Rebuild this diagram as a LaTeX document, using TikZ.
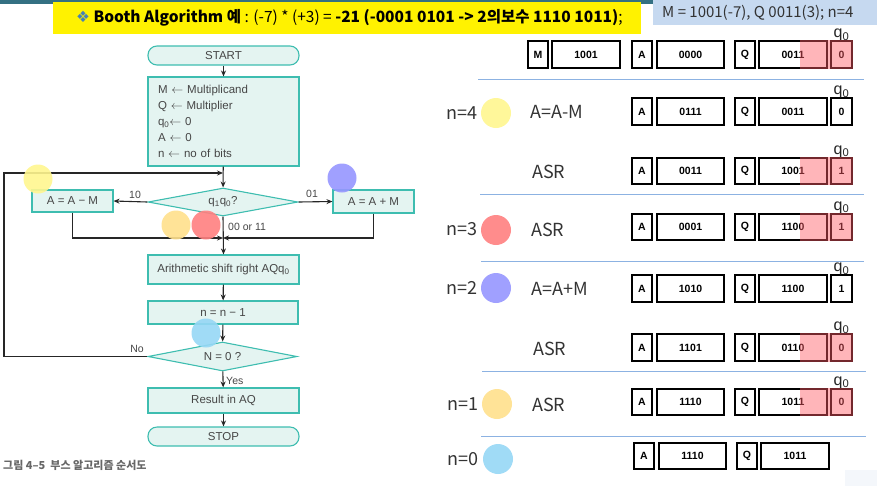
\documentclass[tikz,border=0pt]{standalone}
\usepackage{fontspec}
\setmainfont{Liberation Sans}
\newfontfamily\kr{Noto Sans CJK KR}
\newfontfamily\dejavu{DejaVu Sans}
\usetikzlibrary{arrows.meta,shapes.geometric}
\definecolor{tealb}{RGB}{62,189,176}
\definecolor{tealf}{RGB}{228,244,241}
\definecolor{ftext}{RGB}{70,70,70}
\definecolor{sepc}{RGB}{140,178,226}
\definecolor{hdr}{RGB}{198,217,240}
\definecolor{topbar}{RGB}{52,112,130}
\definecolor{bullet}{RGB}{70,130,180}
\definecolor{cyel}{RGB}{255,246,143}
\definecolor{corg}{RGB}{255,224,140}
\definecolor{cred}{RGB}{255,128,128}
\definecolor{cpur}{RGB}{150,150,255}
\definecolor{cblu}{RGB}{150,215,245}
\definecolor{faint}{RGB}{244,247,251}
\newcommand\fbfont{\fontsize{11.5}{16}\selectfont}
\newcommand\regrow[6]{%
  \node[lab] (a#1) at (642,#2) {A};
  \node[val] (av#1) at (690.5,#2) {#3};
  \node[lab] (q#1) at (745,#2) {Q};
  \node[val] (qv#1) at (793,#2) {#4};
  \node[lab,minimum width=21.5pt] (z#1) at (841.5,#2) {#5};
  \node[q0l] (zl#1) at (841.5,{#2-19.5}) {q\textsubscript{0}};
  \ifnum#6=1 \fill[pinkov] (800,{#2-14.25}) rectangle (853.2,{#2+14.25}); \fi
}
\tikzset{
 fbox/.style={draw=tealb, fill=tealf, line width=1.1pt, font=\fbfont, text=ftext, inner sep=0pt},
 term/.style={fbox, rounded corners=9pt},
 dia/.style={fbox, diamond, aspect=5.3},
 arr/.style={draw=black!85, line width=1.1pt, -{Stealth[length=6pt,width=5pt]}},
 flab/.style={font=\fontsize{10.5}{12}\selectfont, text=ftext, inner sep=0pt},
 lab/.style={draw=black, line width=1.6pt, minimum width=20.5pt, minimum height=26.5pt, inner sep=0pt, font=\bfseries\fontsize{10.5}{12}\selectfont},
 val/.style={lab, minimum width=67.5pt},
 rowt/.style={font=\kr\fontsize{18}{20}\selectfont, text=black!80, inner sep=0pt, anchor=west},
 sepl/.style={draw=sepc, line width=1pt},
 q0l/.style={font=\fontsize{16}{16}\selectfont, text=black!85, inner sep=0pt},
 pinkov/.style={fill={rgb,255:red,255;green,90;blue,100}, fill opacity=0.45},
 dot/.style={circle, minimum size=29pt, inner sep=0pt, fill opacity=0.9},
}
\begin{document}
\begin{tikzpicture}[x=1pt,y=-1pt]
\useasboundingbox (0,0) rectangle (877,496);
% header
\fill[topbar] (0,0) rectangle (653,4);
\fill[yellow] (53,2) rectangle (641,34);
\fill[hdr] (653,0) rectangle (877,25);
\node[anchor=west, inner sep=0pt, font=\kr\fontsize{15.5}{18}\selectfont] (title) at (76,18)
  {{\dejavu\color{bullet}❖}\ \textbf{Booth Algorithm 예} : (-7) * (+3) = \textbf{-21 (-0001 0101 -> 2의보수 1110 1011)};};
\node[anchor=west, inner sep=0pt, font=\kr\fontsize{15}{16}\selectfont, text=black!80] (hdrt) at (662,13) {M = 1001(-7), Q 0011(3); n=4};
% flowchart
\node[term, minimum width=151pt, minimum height=19pt] (start) at (223.5,55.5) {START};
\node[fbox, minimum width=151pt, minimum height=89pt, text width=131pt, inner xsep=10pt, align=left] (init) at (223.5,121.5)
  {M $\leftarrow$ Multiplicand\\Q $\leftarrow$ Multiplier\\q\textsubscript{0}$\leftarrow$ 0\\A $\leftarrow$ 0\\n $\leftarrow$ no of bits};
\node[dia, minimum width=150pt, minimum height=28pt] (d1) at (223,202) {q\textsubscript{1}q\textsubscript{0}?};
\node[fbox, minimum width=81pt, minimum height=22pt] (amm) at (72.5,201) {A = A − M};
\node[fbox, minimum width=81pt, minimum height=23pt] (apm) at (373.5,201.5) {A = A + M};
\node[fbox, minimum width=151pt, minimum height=29pt] (asr) at (223.5,269.5) {Arithmetic shift right AQq\textsubscript{0}};
\node[fbox, minimum width=150pt, minimum height=23pt] (dec) at (223,312.5) {n = n − 1};
\node[dia, minimum width=149pt, minimum height=29pt] (d2) at (222.5,356.5) {N = 0 ?};
\node[fbox, minimum width=151pt, minimum height=25pt] (res) at (223.5,400.5) {Result in AQ};
\node[term, minimum width=151pt, minimum height=19pt] (stop) at (223.5,436.5) {STOP};
\coordinate (jtop) at (223,173);
\coordinate (jmid) at (223,238);
\coordinate (lpb) at (4,356.5);
\draw[arr] (start) -- (init);
\draw[arr] (init) -- (d1);
\draw[arr] (d1.west) -- (amm.east);
\draw[arr] (d1.east) -- (apm.west);
\draw[arr] (d1.south) -- (asr.north);
\draw[arr] (amm.south) |- (jmid);
\draw[arr] (apm.south) |- (jmid);
\draw[arr] (asr) -- (dec);
\draw[arr] (dec) -- (d2);
\draw[arr] (d2) -- (res);
\draw[arr] (res) -- (stop);
\draw[arr] (d2.west) -- (lpb) |- (jtop);
\node[flab] (l10) at (135,195) {10};
\node[flab] (l01) at (312,194) {01};
\node[flab, anchor=west] (l0011) at (228,227) {00 or 11};
\node[flab] (lno) at (137,349) {No};
\node[flab, anchor=west] (lyes) at (226,381) {Yes};
\node[anchor=west, inner sep=0pt, font=\kr\bfseries\fontsize{11}{12}\selectfont, text=black!60] (cap) at (3,465) {그림 4–5\ \ 부스 알고리즘 순서도};
% circles on flowchart
\node[dot, fill=cyel] (c1) at (38,179) {};
\node[dot, fill=corg] (c2) at (176,225) {};
\node[dot, fill=cred] (c3) at (206,225) {};
\node[dot, fill=cpur] (c4) at (342,178) {};
\node[dot, fill=cblu] (c5) at (206,333) {};
% register rows
\node[lab] (m0) at (538,54.5) {M};
\node[val] (mv0) at (586,54.5) {1001};
\regrow{0}{54.5}{0000}{0011}{0}{1}
\regrow{1}{111.5}{0111}{0011}{0}{0}
\regrow{2}{171}{0011}{1001}{1}{1}
\regrow{3}{227}{0001}{1100}{1}{1}
\regrow{4}{288.5}{1010}{1100}{1}{0}
\regrow{5}{347.5}{1101}{0110}{0}{1}
\regrow{6}{402}{1110}{1011}{0}{1}
\node[lab] (a7) at (644,456) {A};
\node[val] (av7) at (692.5,456) {1110};
\node[lab] (q7) at (747,456) {Q};
\node[val] (qv7) at (795,456) {1011};
% separators
\draw[sepl] (478,79) -- (864,79);
\draw[sepl] (480,194) -- (864,194);
\draw[sepl] (481,261) -- (864,261);
\draw[sepl] (482,371) -- (866,371);
\draw[sepl] (481,436) -- (866,436);
% row labels
\node[rowt] (n4) at (446,113) {n=4};
\node[rowt] (t1) at (530,112) {A=A-M};
\node[rowt] (t2) at (532,172) {ASR};
\node[rowt] (n3) at (446,229) {n=3};
\node[rowt] (t3) at (531,230) {ASR};
\node[rowt] (n2) at (446,288) {n=2};
\node[rowt] (t4) at (531,289) {A=A+M};
\node[rowt] (t5) at (533,349) {ASR};
\node[rowt] (n1) at (447,404) {n=1};
\node[rowt] (t6) at (532,405) {ASR};
\node[rowt] (n0) at (447,459) {n=0};
\node[dot, fill=cyel, minimum size=30pt] (r4) at (496,113) {};
\node[dot, fill=cred, minimum size=30pt] (r3) at (496,230) {};
\node[dot, fill=cpur, minimum size=30pt] (r2) at (496,288) {};
\node[dot, fill=corg, minimum size=30pt] (r1) at (497,404) {};
\node[dot, fill=cblu, minimum size=30pt] (r0) at (498,459) {};
\fill[faint] (845,470) rectangle (877,486);
\end{tikzpicture}
\end{document}
